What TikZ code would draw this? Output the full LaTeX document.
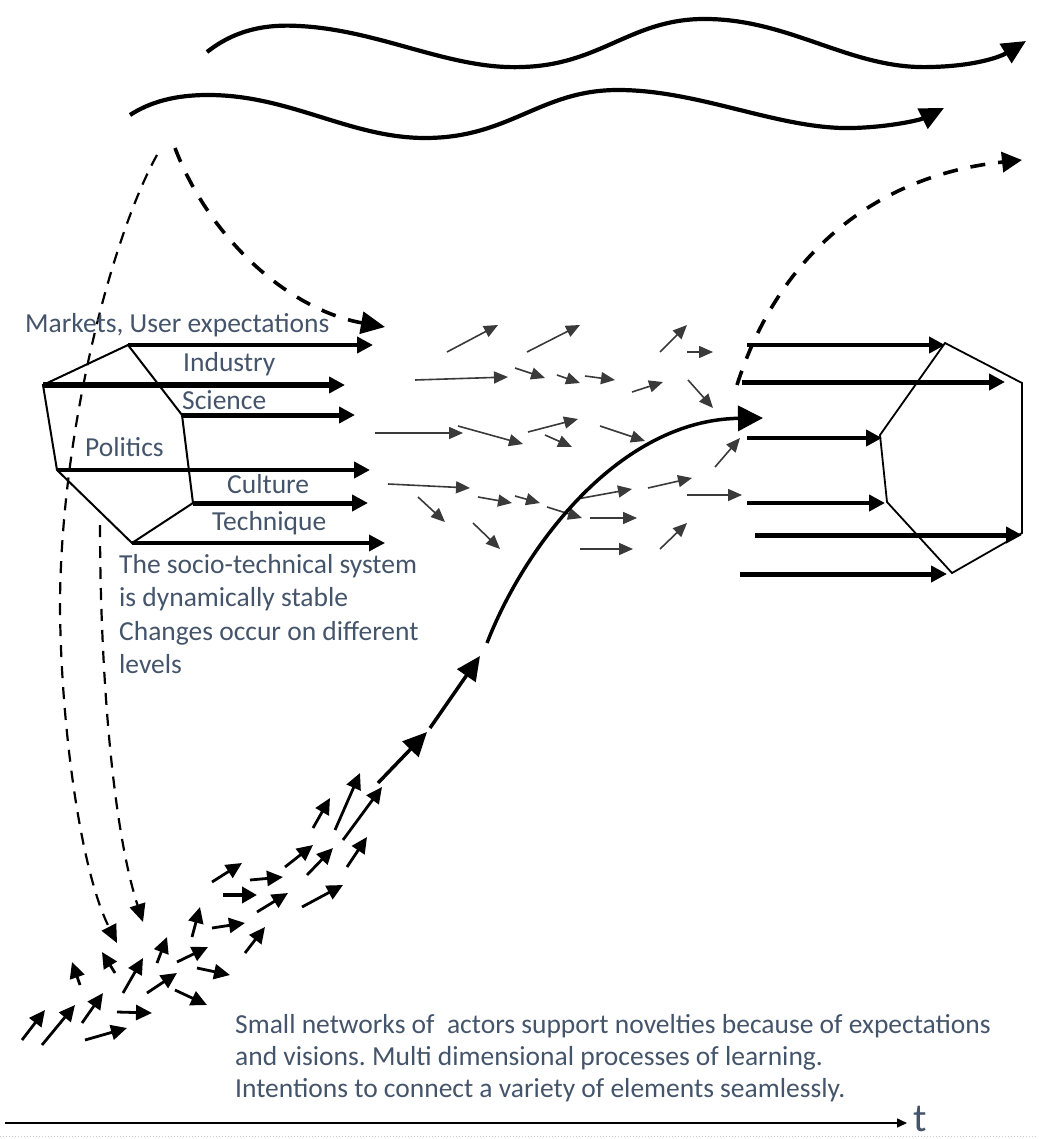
\documentclass[tikz,border=0pt]{standalone}
\usepackage{fontspec}
\setmainfont{Carlito}
\usetikzlibrary{arrows.meta}
\definecolor{txt}{HTML}{44546A}
\definecolor{agray}{HTML}{3A3A3A}
\frenchspacing
\begin{document}
\begin{tikzpicture}[x=1pt,y=-1pt,
  lbl/.style={anchor=base west,inner sep=0pt,text=txt,font=\fontsize{27.5}{33}\selectfont},
  hexline/.style={line width=2pt,line join=miter},
  harrow/.style={line width=#1,-{Triangle[length=16pt,width=16pt]}},
  garrow/.style={draw=agray,fill=agray,line width=1.6pt,-{Triangle[length=14pt,width=12pt]}},
  barrow/.style={line width=2.8pt,-{Triangle[length=16pt,width=15pt]}},
  bigarrow/.style={line width=3.5pt,-{Triangle[length=24pt,width=22pt]}},
  wave/.style={line width=4.2pt,-{Triangle[length=24pt,width=22pt]}},
  thindash/.style={line width=2.2pt,dash pattern=on 12pt off 9pt},
  thickdash/.style={line width=3.6pt,dash pattern=on 15pt off 13pt}]
\useasboundingbox (0,0) rectangle (1038,1139);

% waves
\draw[wave] (207,52) .. controls (235,30) and (265,24) .. (299,26)
  .. controls (380,30) and (450,70) .. (522,67)
  .. controls (600,65) and (630,20) .. (702,19)
  .. controls (790,18) and (850,70) .. (931,67)
  .. controls (975,66) and (1000,57) .. (1026,41);
\draw[wave] (130,115) .. controls (150,102) and (175,95) .. (208,95)
  .. controls (290,95) and (350,138) .. (425,138)
  .. controls (510,138) and (540,90) .. (618,90)
  .. controls (700,90) and (780,130) .. (853,128)
  .. controls (890,127) and (920,120) .. (944,108);

% dashed lines
\draw[thindash,-{Triangle[length=18pt,width=16pt]}] (157,155) .. controls (115,230) and (62,420) .. (60,600)
  .. controls (60,720) and (80,870) .. (117,943);
\draw[thindash,-{Triangle[length=18pt,width=16pt]}] (100,525) .. controls (100,650) and (110,820) .. (143,922);
\draw[thickdash,-{Triangle[length=24pt,width=22pt]}] (175,148) .. controls (210,240) and (290,310) .. (385,327);
\draw[thickdash,-{Triangle[length=20pt,width=20pt]}] (737,385) .. controls (780,250) and (880,175) .. (1022,160);

% left hexagon
\coordinate (l1) at (128,345);
\coordinate (l2) at (182,415);
\coordinate (l3) at (193,503);
\coordinate (l4) at (132,543);
\coordinate (l5) at (57,470);
\coordinate (l6) at (43,385);
\draw[hexline] (l1) -- (l2) -- (l3) -- (l4) -- (l5) -- (l6) -- cycle;
\draw[harrow=4pt] (l1) -- (373,345);
\draw[harrow=6pt] (l6) -- (345,385);
\draw[harrow=5pt] (l2) -- (355,415);
\draw[harrow=4.5pt] (l5) -- (370,470);
\draw[harrow=5pt] (l3) -- (368,503);
\draw[harrow=3.5pt] (l4) -- (385,543);

% right hexagon
\coordinate (r1) at (945,343);
\coordinate (r2) at (1022,383);
\coordinate (r3) at (1022,533);
\coordinate (r4) at (952,573);
\coordinate (r5) at (887,502);
\coordinate (r6) at (880,435);
\draw[line width=1.8pt] (r1) -- (r2) -- (r3) -- (r4) -- (r5) -- (r6) -- cycle;
\draw[harrow=4pt] (747,345) -- (945,345);
\draw[harrow=5pt] (742,382) -- (1005,382);
\draw[harrow=4pt] (747,438) -- (882,438);
\draw[harrow=4pt] (747,503) -- (885,503);
\draw[harrow=5pt] (755,535) -- (1022,535);
\draw[harrow=5pt] (740,574) -- (947,574);

% gray arrows
\foreach \a/\b/\c/\d in {447/352/498/325, 527/352/580/325, 660/352/687/325, 687/352/713/352,
  415/380/508/377, 515/368/545/378, 557/375/580/383, 585/376/615/380, 632/392/663/382,
  688/380/713/408, 375/433/463/433, 458/426/523/444, 528/432/578/419, 545/435/572/447,
  600/426/645/441, 715/467/740/438, 388/484/470/488, 418/497/445/522, 478/497/512/503,
  515/496/540/503, 547/507/582/518, 473/523/500/549, 577/499/632/489, 648/488/692/478,
  687/495/742/495, 590/518/637/518, 580/549/633/549, 660/549/687/523}
  \draw[garrow] (\a,\b) -- (\c,\d);

% black cluster arrows
\foreach \a/\b/\c/\d in {22/1040/45/1010, 42/1045/75/1005, 82/1023/103/993, 85/1040/127/1028,
  117/1012/152/1013, 80/985/72/962, 115/973/102/952, 123/993/143/958, 147/993/177/973,
  175/990/207/1005, 157/963/167/937, 177/962/208/947, 197/968/230/975, 192/937/200/907,
  212/928/245/923, 245/953/265/927, 212/882/242/863, 250/880/283/877, 257/912/288/893,
  285/867/313/845, 302/907/343/885, 307/875/333/848, 347/867/367/837, 313/828/330/798,
  335/830/360/773, 343/840/382/787}
  \draw[barrow] (\a,\b) -- (\c,\d);
\draw[line width=4.5pt,-{Triangle[length=15pt,width=16pt]}] (223,895) -- (257,895);

% main curve
\draw[bigarrow] (378,783) -- (427,732);
\draw[bigarrow] (430,728) -- (480,656);
\draw[line width=3.5pt,-{Triangle[length=25pt,width=25pt]}] (487,643) .. controls (525,545) and (620,420) .. (763,418);

% labels
\node[lbl] (mk) at (25,332) {Markets, User expectations};
\node[lbl] (ind) at (183,371) {Industry};
\node[lbl] (sci) at (182,409) {Science};
\node[lbl] (pol) at (85,456) {Politics};
\node[lbl] (cul) at (227,493) {Culture};
\node[lbl] (tec) at (212,530) {Technique};
\node[lbl] (s1) at (119,573) {The socio-technical system};
\node[lbl] (s2) at (119,606) {is dynamically stable};
\node[lbl] (s3) at (119,640) {Changes occur on different};
\node[lbl] (s4) at (119,673) {levels};
\node[lbl] (b1) at (235,1033) {Small networks of\ \ actors support novelties because of expectations};
\node[lbl] (b2) at (235,1065) {and visions. Multi dimensional processes of learning.};
\node[lbl] (b3) at (235,1097) {Intentions to connect a variety of elements seamlessly.};

% time axis
\coordinate (t0) at (5,1123);
\node[anchor=base west,inner sep=0pt,text=txt,font=\fontsize{40}{40}\selectfont] (t) at (913,1131) {t};
\draw[line width=1.5pt,-{Triangle[length=10pt,width=9pt]}] (t0) -- (907,1123);
\draw[gray!40,line width=1pt,dotted] (0,1136) -- (1038,1136);
\end{tikzpicture}
\end{document}
